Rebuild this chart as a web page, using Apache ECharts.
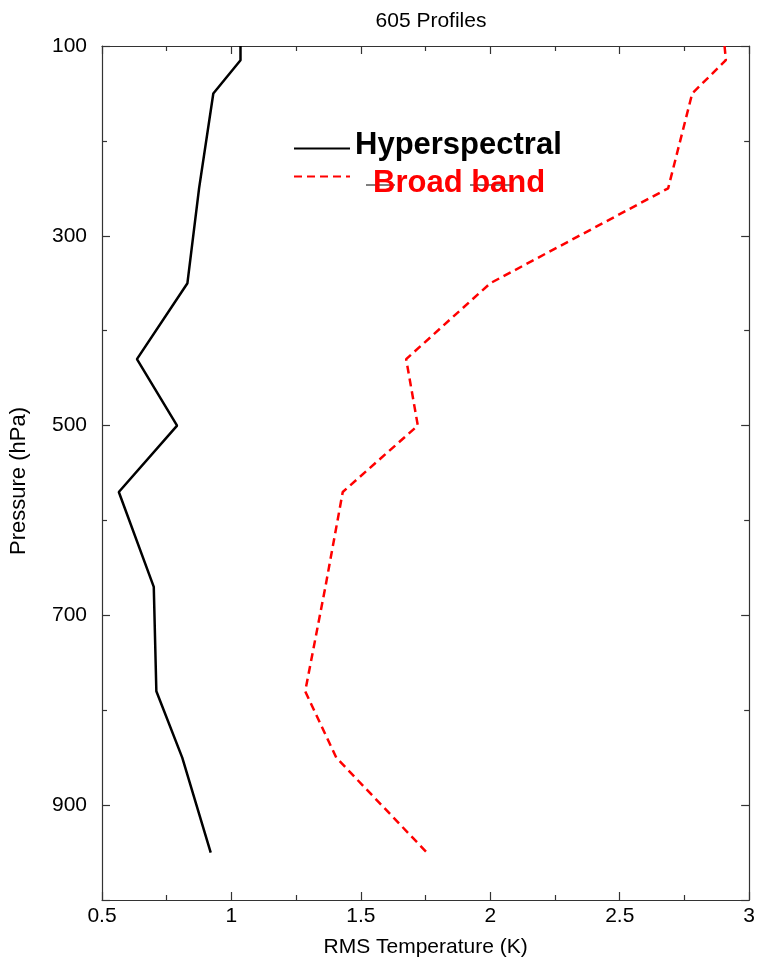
<!DOCTYPE html>
<html>
<head>
<meta charset="utf-8">
<script src="https://cdn.jsdelivr.net/npm/echarts@6/dist/echarts.min.js"></script>
<style>
html,body{margin:0;padding:0;background:#fff;}
#chart{width:758px;height:965px;}
</style>
</head>
<body>
<div id="chart"></div>
<script>
// Pressure levels (hPa)
var pressure = [100, 115, 150, 250, 350, 430, 500, 570, 670, 780, 850, 950];
// RMS temperature (K)
var hyperspectral = [1.035, 1.035, 0.93, 0.875, 0.83, 0.635, 0.79, 0.565, 0.70, 0.71, 0.81, 0.92];
var broadBand = [2.905, 2.91, 2.78, 2.687, 2.0, 1.675, 1.72, 1.43, 1.363, 1.285, 1.405, 1.755];
var seriesNames = ['Hyperspectral', 'Broad band'];
var xTicks = [0.5, 1, 1.5, 2, 2.5, 3];
var yTicks = [100, 300, 500, 700, 900];

var FONT = '"Liberation Sans", Arial, Helvetica, sans-serif';
var chart = echarts.init(document.getElementById('chart'));

function pairs(vals) { return vals.map(function (v, i) { return [v, pressure[i]]; }); }

var axisLine = { show: true, lineStyle: { color: '#333', width: 1.2 } };
var tick = { show: true, inside: true, length: 8, lineStyle: { color: '#333', width: 1.2 } };
var minor = { show: true, splitNumber: 2, length: 5, lineStyle: { color: '#333', width: 1.2 } };

var option = {
  backgroundColor: '#fff',
  animation: false,
  title: {
    text: '605 Profiles', left: 426, top: 6, textAlign: 'center',
    textStyle: { fontFamily: FONT, fontSize: 21, fontWeight: 'normal', color: '#000' }
  },
  grid: { left: 101.5, right: 7.5, top: 46, bottom: 65, containLabel: false },
  legend: [
    {
      data: [{ name: seriesNames[0], textStyle: { color: '#000' } }],
      left: 293, top: 130, padding: 0, itemWidth: 56, itemHeight: 14, itemGap: 0,
      itemStyle: { opacity: 0 },
      formatter: function (n) { return '{t|' + n + '}'; },
      textStyle: { fontFamily: FONT, fontSize: 31, fontWeight: 'bold',
        rich: { t: { fontFamily: FONT, fontSize: 31, fontWeight: 'bold', color: '#000', padding: [0, 0, 6, 0] } } },
      selectedMode: false
    },
    {
      data: [{ name: seriesNames[1], textStyle: { color: '#ff0000' } }],
      left: 293, top: 168, padding: 0, itemWidth: 56, itemHeight: 14, itemGap: 0,
      itemStyle: { opacity: 0 },
      formatter: function (n) { return '{t|' + n + '}'; },
      textStyle: { fontFamily: FONT, fontSize: 31, fontWeight: 'bold',
        rich: { t: { fontFamily: FONT, fontSize: 31, fontWeight: 'bold', color: '#ff0000', padding: [14, 0, 0, 18] } } },
      selectedMode: false
    }
  ],
  xAxis: [
    {
      type: 'value', position: 'bottom', min: xTicks[0], max: xTicks[xTicks.length - 1], interval: 0.5,
      name: 'RMS Temperature (K)', nameLocation: 'middle', nameGap: 37,
      nameTextStyle: { fontFamily: FONT, fontSize: 21, color: '#000' },
      axisLine: axisLine, axisTick: tick, minorTick: minor,
      axisLabel: { fontFamily: FONT, fontSize: 21, color: '#000', margin: 6,
        formatter: function (v) { return String(v); } },
      splitLine: { show: false }
    },
    {
      type: 'value', position: 'top', min: xTicks[0], max: xTicks[xTicks.length - 1], interval: 0.5,
      axisLine: axisLine, axisTick: tick, minorTick: minor,
      axisLabel: { show: false }, splitLine: { show: false }
    }
  ],
  yAxis: [
    {
      type: 'value', position: 'left', inverse: true, min: 100, max: 1000, interval: 200,
      name: 'Pressure (hPa)', nameLocation: 'middle', nameGap: 72, nameRotate: 90,
      nameTextStyle: { fontFamily: FONT, fontSize: 22, color: '#000', padding: [0, 16, 0, 0] },
      axisLine: axisLine, axisTick: tick, minorTick: minor,
      axisLabel: { fontFamily: FONT, fontSize: 21, color: '#000', margin: 15, showMaxLabel: false,
        formatter: function (v) { return yTicks.indexOf(v) >= 0 ? String(v) : ''; } },
      splitLine: { show: false }
    },
    {
      type: 'value', position: 'right', inverse: true, min: 100, max: 1000, interval: 200,
      axisLine: axisLine, axisTick: tick, minorTick: minor,
      axisLabel: { show: false }, splitLine: { show: false }
    }
  ],
  series: [
    {
      name: seriesNames[0], type: 'line', data: pairs(hyperspectral),
      xAxisIndex: 0, yAxisIndex: 0, symbol: 'none', showSymbol: false,
      lineStyle: { color: '#000', width: 2.5, type: 'solid' }, itemStyle: { color: '#000' }
    },
    {
      name: seriesNames[1], type: 'line', data: pairs(broadBand),
      xAxisIndex: 0, yAxisIndex: 0, symbol: 'none', showSymbol: false,
      lineStyle: { color: '#ff0000', width: 2.5, type: [8, 5] }, itemStyle: { color: '#ff0000' }
    }
  ],
  graphic: [
    { type: 'line', z: -1, shape: { x1: 366, y1: 185, x2: 395, y2: 185 }, style: { stroke: '#000', lineWidth: 1 } },
    { type: 'line', z: -1, shape: { x1: 470, y1: 185, x2: 510, y2: 185 }, style: { stroke: '#000', lineWidth: 1 } }
  ]
};
chart.setOption(option);
</script>
</body>
</html>
